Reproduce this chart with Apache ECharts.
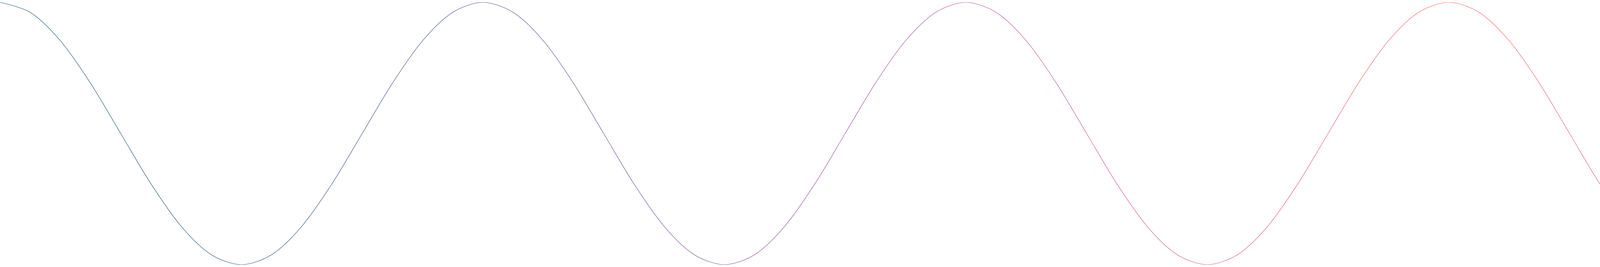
<!DOCTYPE html>
<html>
<head>
<meta charset="utf-8">
<script src="https://cdn.jsdelivr.net/npm/echarts@6/dist/echarts.min.js"></script>
<style>html,body{margin:0;padding:0;background:#fff}#main{width:7418px;height:684px}</style>
</head>
<body>
<div id="main"></div>
<script>
// wave samples, 16 per period, 6 periods (x in periods)
var ys = [
    1,0.924,0.707,0.383,0,-0.383,-0.707,-0.924,-1,-0.924,-0.707,-0.383,0,0.383,0.707,0.924,
    1,0.924,0.707,0.383,0,-0.383,-0.707,-0.924,-1,-0.924,-0.707,-0.383,0,0.383,0.707,0.924,
    1,0.924,0.707,0.383,0,-0.383,-0.707,-0.924,-1,-0.924,-0.707,-0.383,0,0.383,0.707,0.924,
    1,0.924,0.707,0.383,0,-0.383,-0.707,-0.924,-1,-0.924,-0.707,-0.383,0,0.383,0.707,0.924,
    1,0.924,0.707,0.383,0,-0.383,-0.707,-0.924,-1,-0.924,-0.707,-0.383,0,0.383,0.707,0.924,
    1,0.924,0.707,0.383,0,-0.383,-0.707,-0.924,-1,-0.924,-0.707,-0.383,0,0.383,0.707,0.924,
    1];
var step = 1 / 16;

var chart = echarts.init(document.getElementById('main'));
var points = ys.map(function (y, i) { return [i * step, y]; });
chart.setOption({
    animation: false,
    grid: {left: 0, right: 0, top: 6, bottom: 6},
    xAxis: {type: 'value', min: 0, max: 6, show: false},
    yAxis: {type: 'value', min: -1, max: 1, show: false},
    series: [{
        type: 'line',
        data: points,
        smooth: 0.3,
        showSymbol: false,
        lineStyle: {
            width: 1.2,
            color: new echarts.graphic.LinearGradient(0, 0, 1, 0, [
                {offset: 0, color: '#1f5f78'},
                {offset: 0.17, color: '#5d5a94'},
                {offset: 0.33, color: '#b65ba8'},
                {offset: 0.5, color: '#ff6b6b'},
                {offset: 0.67, color: '#b65ba8'},
                {offset: 0.83, color: '#5d5a94'},
                {offset: 1, color: '#1f5f78'}
            ])
        }
    }]
});
</script>
</body>
</html>
